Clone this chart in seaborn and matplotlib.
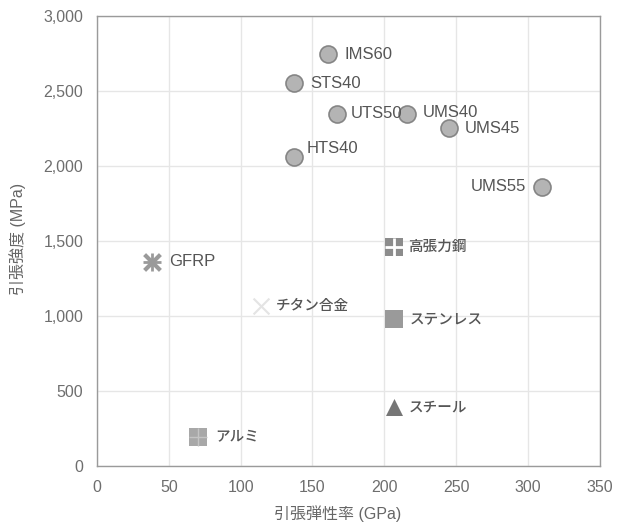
import numpy as np
import pandas as pd
import matplotlib
matplotlib.use("Agg")
import matplotlib.pyplot as plt
import seaborn as sns

# 炭素繊維 (circles)
cf_names = ["IMS60", "STS40", "UTS50", "HTS40", "UMS40", "UMS45", "UMS55"]
cf_modulus = [161, 137, 167, 137, 216, 245, 310]
cf_strength = [2745, 2553, 2347, 2060, 2347, 2253, 1860]

# other materials
mat_names = ["GFRP", "チタン合金", "高張力鋼", "ステンレス", "スチール", "アルミ"]
mat_modulus = [38, 114, 207, 207, 207, 70]
mat_strength = [1360, 1067, 1460, 980, 393, 193]

xticks = [0, 50, 100, 150, 200, 250, 300, 350]
yticks = [0, 500, 1000, 1500, 2000, 2500, 3000]
ytick_labels = ["0", "500", "1,000", "1,500", "2,000", "2,500", "3,000"]

sns.set_style("whitegrid")
plt.rcParams['font.family'] = ['Liberation Sans', 'Noto Sans CJK JP', 'DejaVu Sans']

fig = plt.figure(figsize=(6.28, 5.3), dpi=100)
ax = fig.add_axes([0.1545, 0.1208, 0.8005, 0.849])

cf = pd.DataFrame({"name": cf_names, "x": cf_modulus, "y": cf_strength})
mat = pd.DataFrame({"name": mat_names, "x": mat_modulus, "y": mat_strength})

# carbon fibres
sns.scatterplot(data=cf, x="x", y="y", ax=ax, s=150, color="#b4b4b4",
                edgecolor="#858585", linewidth=1.2, zorder=3)

# GFRP: asterisk (x + plus)
g = mat[mat.name == "GFRP"]
sns.scatterplot(data=g, x="x", y="y", ax=ax, marker="x", s=130, color="#9a9a9a",
                linewidth=3, zorder=3)
sns.scatterplot(data=g, x="x", y="y", ax=ax, marker="+", s=160, color="#9a9a9a",
                linewidth=2, zorder=3)

# チタン合金: faint x
t = mat[mat.name == "チタン合金"]
sns.scatterplot(data=t, x="x", y="y", ax=ax, marker="x", s=130, color="#e4e4e4",
                linewidth=1.5, zorder=3)

# 高張力鋼: square split in four
h = mat[mat.name == "高張力鋼"]
sns.scatterplot(data=h, x="x", y="y", ax=ax, marker="s", s=150, color="#8c8c8c",
                linewidth=0, zorder=3)
sns.scatterplot(data=h, x="x", y="y", ax=ax, marker="+", s=170, color="white",
                linewidth=2, zorder=4)

# ステンレス
st = mat[mat.name == "ステンレス"]
sns.scatterplot(data=st, x="x", y="y", ax=ax, marker="s", s=170, color="#9a9a9a",
                linewidth=0, zorder=3)

# スチール
sl = mat[mat.name == "スチール"]
sns.scatterplot(data=sl, x="x", y="y", ax=ax, marker="^", s=150, color="#767676",
                linewidth=0, zorder=3)

# アルミ
al = mat[mat.name == "アルミ"]
sns.scatterplot(data=al, x="x", y="y", ax=ax, marker="s", s=170, color="#a8a8a8",
                linewidth=0, zorder=3)
sns.scatterplot(data=al, x="x", y="y", ax=ax, marker="+", s=170, color="#c4c4c4",
                linewidth=1, zorder=4)

# labels
txt = dict(color="#555555", va="center", textcoords="offset pixels")
offsets = {"IMS60": (16, 0), "STS40": (16, 0), "UTS50": (14, 0), "HTS40": (13, 8),
           "UMS40": (15, 1), "UMS45": (16, 0), "UMS55": (-16, 0)}
for _, r in cf.iterrows():
    dx, dy = offsets[r["name"]]
    ax.annotate(r["name"], (r["x"], r["y"]), xytext=(dx, dy), fontsize=12,
                ha="right" if dx < 0 else "left", **txt)
moffsets = {"GFRP": (18, 0), "チタン合金": (15, 0), "高張力鋼": (14, 0),
            "ステンレス": (15, 0), "スチール": (14, 0), "アルミ": (18, 0)}
for _, r in mat.iterrows():
    fs = 12 if r["name"] == "GFRP" else 10.5
    ax.annotate(r["name"], (r["x"], r["y"]), xytext=moffsets[r["name"]],
                fontsize=fs, ha="left", fontweight="medium", **txt)

ax.set_xlim(0, 350)
ax.set_ylim(0, 3000)
ax.set_xticks(xticks)
ax.set_yticks(yticks)
ax.set_yticklabels(ytick_labels)
ax.grid(True, color="#e6e6e6", linewidth=1)
for sp in ax.spines.values():
    sp.set_color("#9a9a9a")
    sp.set_linewidth(1)
ax.tick_params(colors="#9a9a9a", labelcolor="#6e6e6e", labelsize=11.5,
               length=3, direction="in", pad=10)
ax.set_xlabel("引張弾性率 (GPa)", fontsize=11.5, color="#666666")
ax.set_ylabel("引張強度 (MPa)", fontsize=11.5, color="#666666")
ax.xaxis.set_label_coords(0.478, -0.088)
ax.yaxis.set_label_coords(-0.142, 0.505)

fig.savefig("out.png", dpi=100)
